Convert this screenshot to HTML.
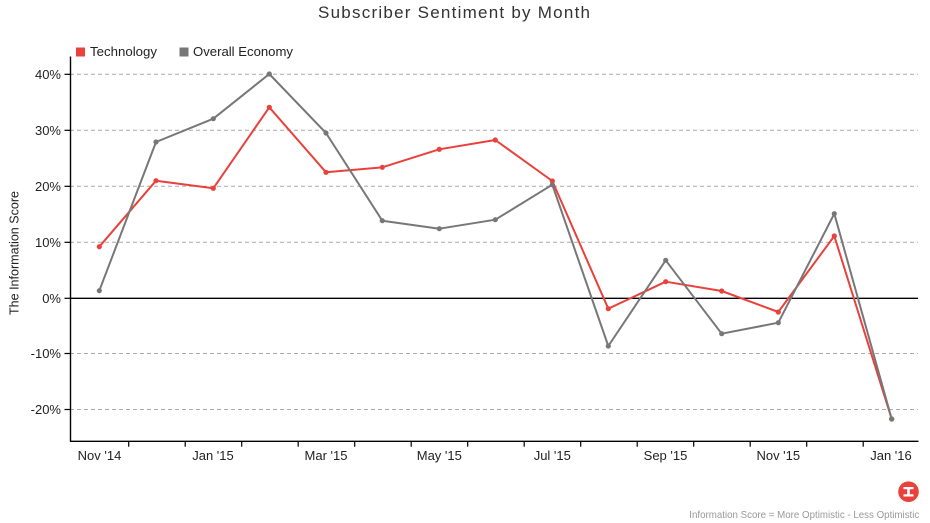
<!DOCTYPE html>
<html>
<head>
<meta charset="utf-8">
<style>
html,body{margin:0;padding:0;background:#fff;}
svg{display:block;font-family:"Liberation Sans",sans-serif;}
</style>
</head>
<body>
<svg width="930" height="523" viewBox="0 0 930 523" xmlns="http://www.w3.org/2000/svg">
<rect width="930" height="523" fill="#fff"/>
<!-- title -->
<text x="318" y="18" font-size="17" fill="#333" textLength="272" lengthAdjust="spacing">Subscriber Sentiment by Month</text>
<!-- legend -->
<rect x="76" y="47.5" width="9" height="9" fill="#e9413b"/>
<text x="90" y="56" font-size="13" fill="#222" textLength="67" lengthAdjust="spacingAndGlyphs">Technology</text>
<rect x="179.5" y="47.5" width="9" height="9" fill="#777"/>
<text x="193" y="56" font-size="13" fill="#222" textLength="100" lengthAdjust="spacingAndGlyphs">Overall Economy</text>
<!-- gridlines -->
<g stroke="#aaa" stroke-width="1" stroke-dasharray="4,3">
<line x1="70" x2="918" y1="74.3" y2="74.3"/>
<line x1="70" x2="918" y1="130.3" y2="130.3"/>
<line x1="70" x2="918" y1="186.3" y2="186.3"/>
<line x1="70" x2="918" y1="242.3" y2="242.3"/>
<line x1="70" x2="918" y1="353.5" y2="353.5"/>
<line x1="70" x2="918" y1="409.5" y2="409.5"/>
</g>
<!-- zero line -->
<line x1="70" x2="918" y1="298.3" y2="298.3" stroke="#000" stroke-width="1.3"/>
<!-- axes -->
<line x1="70.5" x2="70.5" y1="56.5" y2="441.5" stroke="#000" stroke-width="1.4"/>
<line x1="70" x2="918.5" y1="441.3" y2="441.3" stroke="#000" stroke-width="1.4"/>
<!-- y ticks -->
<g stroke="#000" stroke-width="1.2">
<line x1="64.5" x2="70" y1="74.3" y2="74.3"/>
<line x1="64.5" x2="70" y1="130.3" y2="130.3"/>
<line x1="64.5" x2="70" y1="186.3" y2="186.3"/>
<line x1="64.5" x2="70" y1="242.3" y2="242.3"/>
<line x1="64.5" x2="70" y1="298.3" y2="298.3"/>
<line x1="64.5" x2="70" y1="353.5" y2="353.5"/>
<line x1="64.5" x2="70" y1="409.5" y2="409.5"/>
</g>
<!-- y labels -->
<g font-size="13" fill="#222" text-anchor="end">
<text x="61" y="78.8">40%</text>
<text x="61" y="134.8">30%</text>
<text x="61" y="190.8">20%</text>
<text x="61" y="246.8">10%</text>
<text x="61" y="302.8">0%</text>
<text x="61" y="358">-10%</text>
<text x="61" y="414">-20%</text>
</g>
<!-- y title -->
<text transform="translate(18.5,253) rotate(-90)" font-size="13" fill="#222" text-anchor="middle" textLength="124" lengthAdjust="spacingAndGlyphs">The Information Score</text>
<!-- x ticks -->
<g stroke="#000" stroke-width="1.2">
<line x1="128.7" x2="128.7" y1="441" y2="446.7"/>
<line x1="185.2" x2="185.2" y1="441" y2="446.7"/>
<line x1="241.7" x2="241.7" y1="441" y2="446.7"/>
<line x1="298.2" x2="298.2" y1="441" y2="446.7"/>
<line x1="354.7" x2="354.7" y1="441" y2="446.7"/>
<line x1="411.2" x2="411.2" y1="441" y2="446.7"/>
<line x1="467.7" x2="467.7" y1="441" y2="446.7"/>
<line x1="524.2" x2="524.2" y1="441" y2="446.7"/>
<line x1="580.7" x2="580.7" y1="441" y2="446.7"/>
<line x1="637.2" x2="637.2" y1="441" y2="446.7"/>
<line x1="693.7" x2="693.7" y1="441" y2="446.7"/>
<line x1="750.2" x2="750.2" y1="441" y2="446.7"/>
<line x1="806.7" x2="806.7" y1="441" y2="446.7"/>
<line x1="863.2" x2="863.2" y1="441" y2="446.7"/>
</g>
<!-- x labels -->
<g font-size="13" fill="#222" text-anchor="middle">
<text x="99.5" y="460">Nov '14</text>
<text x="213" y="460">Jan '15</text>
<text x="326" y="460">Mar '15</text>
<text x="439.3" y="460">May '15</text>
<text x="552.3" y="460">Jul '15</text>
<text x="665.5" y="460">Sep '15</text>
<text x="778.3" y="460">Nov '15</text>
<text x="891" y="460">Jan '16</text>
</g>
<!-- technology series -->
<polyline fill="none" stroke="#e9413b" stroke-width="2" stroke-linejoin="round"
points="99.3,246.7 156,180.7 213.3,188.3 269.3,107.3 326,172.3 382.3,167.3 439.3,149.3 495.3,140 552.3,181 608.3,308.7 665.7,281.7 721.7,291 778.3,312 834.3,236 891.7,419"/>
<g fill="#e9413b">
<circle cx="99.3" cy="246.7" r="2.6"/><circle cx="156" cy="180.7" r="2.6"/><circle cx="213.3" cy="188.3" r="2.6"/><circle cx="269.3" cy="107.3" r="2.6"/><circle cx="326" cy="172.3" r="2.6"/><circle cx="382.3" cy="167.3" r="2.6"/><circle cx="439.3" cy="149.3" r="2.6"/><circle cx="495.3" cy="140" r="2.6"/><circle cx="552.3" cy="181" r="2.6"/><circle cx="608.3" cy="308.7" r="2.6"/><circle cx="665.7" cy="281.7" r="2.6"/><circle cx="721.7" cy="291" r="2.6"/><circle cx="778.3" cy="312" r="2.6"/><circle cx="834.3" cy="236" r="2.6"/><circle cx="891.7" cy="419" r="2.6"/>
</g>
<!-- overall economy series -->
<polyline fill="none" stroke="#777" stroke-width="2" stroke-linejoin="round"
points="99.3,290.7 156,142 213.3,118.7 269.3,74 326,133 382.3,220.7 439.3,228.7 495.3,219.7 552.3,184.7 608.3,346 665.7,260.3 721.7,333.7 778.3,322.7 834.3,213.7 891.7,419"/>
<g fill="#777">
<circle cx="99.3" cy="290.7" r="2.6"/><circle cx="156" cy="142" r="2.6"/><circle cx="213.3" cy="118.7" r="2.6"/><circle cx="269.3" cy="74" r="2.6"/><circle cx="326" cy="133" r="2.6"/><circle cx="382.3" cy="220.7" r="2.6"/><circle cx="439.3" cy="228.7" r="2.6"/><circle cx="495.3" cy="219.7" r="2.6"/><circle cx="552.3" cy="184.7" r="2.6"/><circle cx="608.3" cy="346" r="2.6"/><circle cx="665.7" cy="260.3" r="2.6"/><circle cx="721.7" cy="333.7" r="2.6"/><circle cx="778.3" cy="322.7" r="2.6"/><circle cx="834.3" cy="213.7" r="2.6"/><circle cx="891.7" cy="419" r="2.6"/>
</g>
<!-- logo -->
<circle cx="908.5" cy="491.7" r="10.3" fill="#e9413b"/>
<g fill="#fff">
<rect x="903.5" y="487" width="10" height="2.2"/>
<rect x="903.5" y="494.3" width="10" height="2.2"/>
<rect x="907.2" y="488" width="2.6" height="7"/>
</g>
<!-- footer -->
<text x="919.3" y="518" font-size="10" fill="#999" text-anchor="end" textLength="230" lengthAdjust="spacingAndGlyphs">Information Score = More Optimistic - Less Optimistic</text>
</svg>
</body>
</html>
